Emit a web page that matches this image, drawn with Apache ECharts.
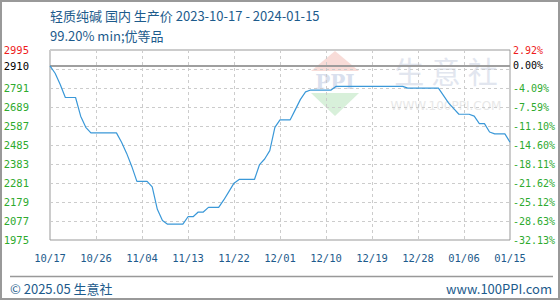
<!DOCTYPE html>
<html>
<head>
<meta charset="utf-8">
<script src="https://cdn.jsdelivr.net/npm/echarts@6/dist/echarts.min.js"></script>
<style>
html,body{margin:0;padding:0;background:#fff;}
#c{width:560px;height:300px;}
</style>
</head>
<body>
<div id="c"></div>
<script>
const titleText = '轻质纯碱 国内 生产价 2023-10-17 - 2024-01-15';
const subText = '99.20% min;优等品';
const footerLeft = '© 2025.05 生意社';
const footerRight = 'www.100PPI.com';

const dates = [
  '10/17','10/18','10/19','10/20','10/21','10/22','10/23','10/24','10/25','10/26','10/27','10/28','10/29','10/30','10/31',
  '11/01','11/02','11/03','11/04','11/05','11/06','11/07','11/08','11/09','11/10','11/11','11/12','11/13','11/14','11/15',
  '11/16','11/17','11/18','11/19','11/20','11/21','11/22','11/23','11/24','11/25','11/26','11/27','11/28','11/29','11/30',
  '12/01','12/02','12/03','12/04','12/05','12/06','12/07','12/08','12/09','12/10','12/11','12/12','12/13','12/14','12/15',
  '12/16','12/17','12/18','12/19','12/20','12/21','12/22','12/23','12/24','12/25','12/26','12/27','12/28','12/29','12/30','12/31',
  '01/01','01/02','01/03','01/04','01/05','01/06','01/07','01/08','01/09','01/10','01/11','01/12','01/13','01/14','01/15'
];

const prices = [
  2910,2870,2810,2740,2740,2740,2640,2580,2550,2550,
  2550,2550,2550,2550,2500,2440,2370,2290,2290,2290,
  2260,2140,2080,2060,2060,2060,2060,2100,2100,2125,
  2125,2150,2150,2150,2190,2235,2280,2300,2300,2300,
  2300,2380,2410,2455,2580,2620,2620,2620,2675,2730,
  2770,2780,2780,2780,2780,2780,2800,2800,2800,2800,
  2800,2800,2800,2800,2800,2800,2800,2800,2800,2800,
  2790,2790,2790,2790,2790,2790,2790,2750,2710,2680,
  2650,2650,2650,2640,2600,2600,2555,2545,2545,2545,
  2500
];

const basePrice = 2910;
const yMin = 1975, yMax = 2995, yStep = 102;
const hiddenTick = 2893;

const blue = '#1d5b8c';
const red = '#ee1c1c';
const green = '#2eaa2e';
const labelFont = 'DejaVu Sans Mono';

const chart = echarts.init(document.getElementById('c'), null, {renderer: 'svg'});

const option = {
  backgroundColor: '#fff',
  animation: false,
  grid: {left: 50, right: 50, top: 50, bottom: 60, show: true, borderColor: '#999', borderWidth: 1},
  xAxis: {
    type: 'category',
    data: dates,
    boundaryGap: false,
    axisLine: {show: false},
    axisTick: {show: false},
    axisLabel: {interval: 8, color: blue, fontFamily: labelFont, fontSize: 10.5, margin: 12},
    splitLine: {show: true, interval: 8, lineStyle: {color: '#ccc', type: [3, 3]}}
  },
  yAxis: [{
    type: 'value',
    min: yMin, max: yMax, interval: yStep,
    axisLine: {show: false},
    axisTick: {show: false},
    axisLabel: {
      margin: 21,
      fontFamily: labelFont, fontSize: 10.5,
      formatter: v => (Math.round(v) === hiddenTick ? '' : String(Math.round(v))),
      color: v => (Math.round(v) === yMax ? red : green)
    },
    splitLine: {show: true, lineStyle: {color: '#ccc', type: [3, 3]}}
  }, {
    type: 'value',
    position: 'right',
    min: yMin, max: yMax, interval: yStep,
    axisLine: {show: false},
    axisTick: {show: false},
    axisLabel: {
      margin: 3,
      fontFamily: labelFont, fontSize: 10,
      formatter: v => (Math.round(v) === hiddenTick ? '' : ((v - basePrice) / basePrice * 100).toFixed(2) + '%'),
      color: v => (Math.round(v) === yMax ? red : green)
    },
    splitLine: {show: false}
  }],
  series: [{
    type: 'line',
    data: prices,
    symbol: 'none',
    lineStyle: {color: '#3a98d8', width: 1.2},
    z: 5,
    markLine: {
      silent: true,
      symbol: 'none',
      lineStyle: {color: '#999', type: 'solid', width: 1.5},
      data: [
        {yAxis: basePrice, label: {position: 'start', distance: 21, formatter: String(basePrice), color: '#000', fontFamily: labelFont, fontSize: 10.5}},
        {yAxis: basePrice, label: {position: 'end', distance: 3, formatter: '0.00%', color: '#000', fontFamily: labelFont, fontSize: 10}}
      ]
    }
  }],
  graphic: [
    {type: 'rect', shape: {x: 1, y: 1, width: 558, height: 298}, style: {fill: 'none', stroke: '#999', lineWidth: 2}, silent: true},
    {type: 'text', x: 50, y: 15, style: {text: titleText, fill: blue, font: '13px "Noto Sans CJK SC"', verticalAlign: 'middle'}},
    {type: 'text', x: 50, y: 35, style: {text: subText, fill: blue, font: '13px "Noto Sans CJK SC"', verticalAlign: 'middle'}},
    {type: 'line', shape: {x1: 10, y1: 276.5, x2: 553, y2: 276.5}, style: {stroke: '#999', lineWidth: 1.5}},
    {type: 'text', x: 10, y: 288, style: {text: footerLeft, fill: blue, font: '13px "Noto Sans CJK SC"', verticalAlign: 'middle'}},
    {type: 'text', x: 552, y: 288, style: {text: footerRight, fill: blue, font: '13px "Noto Sans CJK SC"', align: 'right', verticalAlign: 'middle'}},
    {type: 'polygon', z: -1, shape: {points: [[335, 51], [311, 71], [359, 71]]}, style: {fill: '#f8dcd8'}},
    {type: 'text', z: -1, x: 335, y: 82, style: {text: 'PPI', fill: '#d9e0ee', font: 'bold 20px "DejaVu Serif"', align: 'center', verticalAlign: 'middle'}},
    {type: 'polygon', z: -1, shape: {points: [[311, 93], [359, 93], [335, 116]]}, style: {fill: '#d8f0da'}},
    {type: 'text', z: -1, x: 446, y: 70, style: {text: '生 意 社', fill: '#e2e6ef', font: '30px "Noto Sans CJK SC"', align: 'center', verticalAlign: 'middle'}},
    {type: 'text', z: -1, x: 446, y: 106, style: {text: 'WWW.100PPI.COM', fill: '#e8e8e8', font: '12px "DejaVu Sans"', align: 'center', verticalAlign: 'middle'}}
  ]
};
chart.setOption(option);
</script>
</body>
</html>
